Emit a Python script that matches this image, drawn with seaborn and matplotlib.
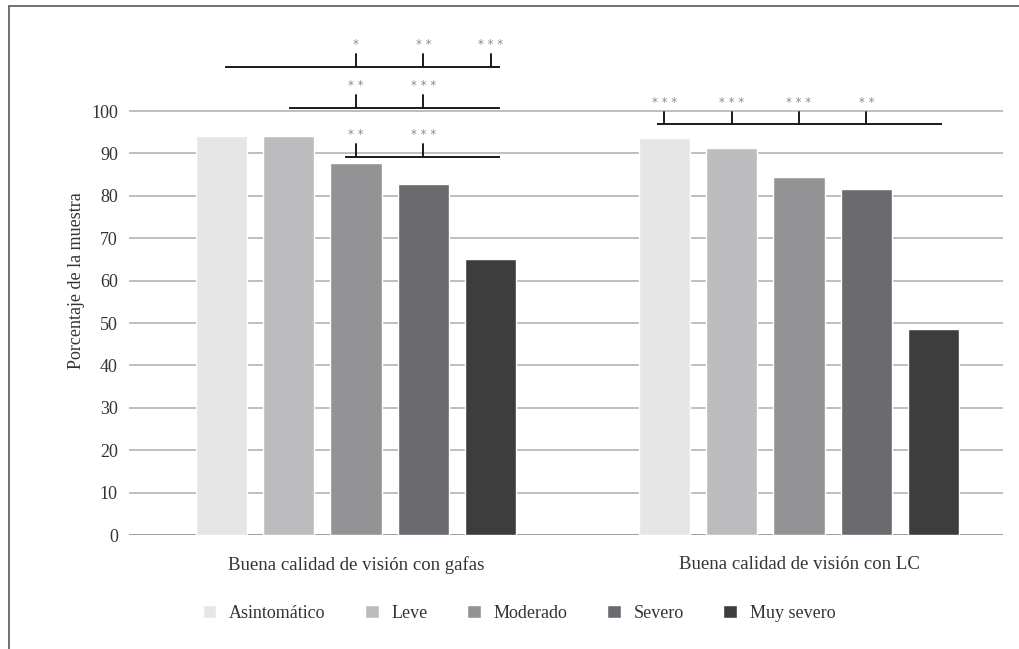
import matplotlib.pyplot as plt
import pandas as pd
import seaborn as sns
from matplotlib.lines import Line2D

# Data
GROUPS = ["Buena calidad de visión con gafas", "Buena calidad de visión con LC"]
SEVERITY = ["Asintomático", "Leve", "Moderado", "Severo", "Muy severo"]
GAFAS = [94.1, 94.1, 87.8, 82.8, 65.1]
LC = [93.6, 91.3, 84.4, 81.6, 48.6]
YTICKS = [0, 10, 20, 30, 40, 50, 60, 70, 80, 90, 100]

COLORS = ["#e6e6e7", "#bcbcbf", "#939396", "#6b6b6f", "#3d3d3e"]
TEXT = "#333333"

# significance brackets: group, (start bar, nudge), (end bar, nudge), line y, tick top, ticks
BRACKETS = [
    (0, (0, 0.008), (4, 0.022), 110.4, 113.4, [(2, "*"), (3, "**"), (4, "***")]),
    (0, (1, 0.0), (4, 0.022), 100.7, 103.8, [(2, "**"), (3, "***")]),
    (0, (2, -0.025), (4, 0.022), 89.2, 92.2, [(2, "**"), (3, "***")]),
    (1, (0, -0.016), (4, 0.019), 96.9, 99.8, [(0, "***"), (1, "***"), (2, "***"), (3, "**")]),
]

df = pd.DataFrame({
    "grupo": [GROUPS[0]] * len(SEVERITY) + [GROUPS[1]] * len(SEVERITY),
    "nivel": SEVERITY * 2,
    "valor": GAFAS + LC,
})

sns.set_style("white")
plt.rcParams["font.family"] = ["Liberation Serif", "DejaVu Serif"]
plt.rcParams["text.color"] = TEXT

fig = plt.figure(figsize=(10.2, 6.49), dpi=100)
ax = fig.add_axes([129 / 1020, 1 - 535 / 649, (1003 - 129) / 1020, 509 / 649])

sns.barplot(data=df, x="grupo", y="valor", hue="nivel", hue_order=SEVERITY,
            palette=COLORS, saturation=1, width=0.76, gap=0.24,
            errorbar=None, ax=ax, zorder=2)

ax.set_ylim(0, 509 / 4.24)
ax.set_xlim(-0.5124, 1.4605)
ax.set_yticks(YTICKS)
ax.yaxis.grid(True, color="#b3b3b3", linewidth=1.2, zorder=0)
ax.axhline(0, color="#9a9a9a", linewidth=1.3, zorder=1)
ax.set_axisbelow(True)
for s in ax.spines.values():
    s.set_visible(False)
ax.tick_params(axis="both", length=0, labelcolor=TEXT)
ax.tick_params(axis="y", pad=8, labelsize=13)
ax.tick_params(axis="x", pad=15, labelsize=13.5)
ax.set_xlabel("")
ax.set_ylabel("Porcentaje de la muestra", fontsize=13, color=TEXT, labelpad=4)

# bar centres from the drawn bars
def centre(g, i):
    bar = ax.containers[i][g]
    return bar.get_x() + bar.get_width() / 2

for g, (s_i, s_dx), (e_i, e_dx), y, top, ticks in BRACKETS:
    x0 = centre(g, s_i) + s_dx
    x1 = centre(g, e_i) + e_dx
    ax.plot([x0, x1], [y, y], color="#1a1a1a", lw=1.4, zorder=4, solid_capstyle="butt")
    for i, stars in ticks:
        xc = centre(g, i)
        ax.plot([xc, xc], [y, top], color="#1a1a1a", lw=1.4, zorder=4)
        ax.text(xc, top + 2.2, " ".join(stars), ha="center", va="center",
                fontsize=8.5, color="#8a8a8a", family="DejaVu Sans")

handles, labels = ax.get_legend_handles_labels()
ax.get_legend().remove()
fig.legend(handles, labels, loc="center", bbox_to_anchor=(519 / 1020, 1 - 613 / 649),
           ncol=5, frameon=False, fontsize=13, handlelength=0.75, handleheight=0.75,
           handletextpad=0.7, columnspacing=2.2, borderaxespad=0)

# outer frame (top and left edges)
fig.add_artist(Line2D([9 / 1020, 1], [1 - 6 / 649] * 2, transform=fig.transFigure,
                      color="#666666", lw=1.3))
fig.add_artist(Line2D([9.5 / 1020] * 2, [0, 1 - 6 / 649], transform=fig.transFigure,
                      color="#666666", lw=1.3))

fig.savefig("out.png", dpi=100)
